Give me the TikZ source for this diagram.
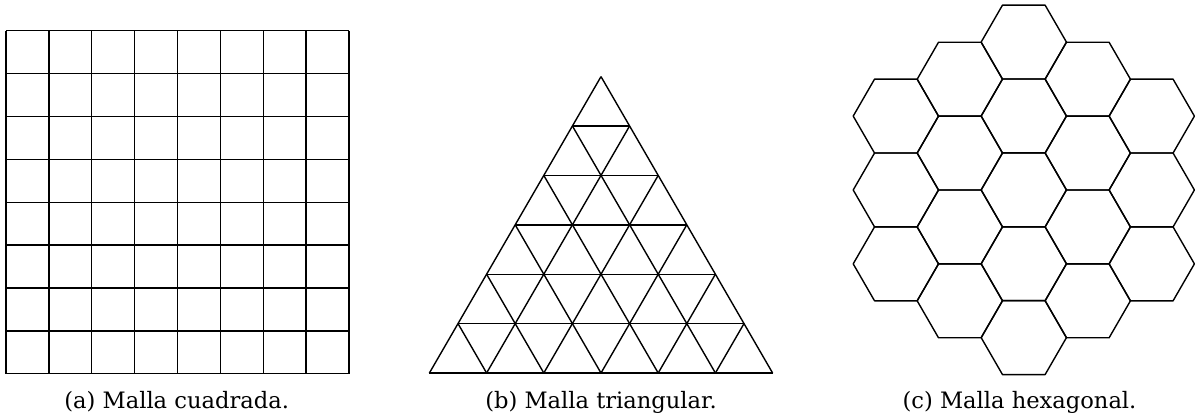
\documentclass[tikz,border=0pt]{standalone}
\usepackage{fontspec}
\setmainfont{DejaVu Serif}
\begin{document}
\begin{tikzpicture}[x=1pt,y=-1pt,
  mesh/.style={line width=1.4pt,line join=round,black},
  caption/.style={anchor=base,inner sep=0pt,font=\fontsize{22.6}{26}\selectfont}]
\useasboundingbox (0,0) rectangle (1195,418);
% (a) square mesh
\pgfmathsetmacro{\cs}{343/8}
\foreach \i in {0,...,8}{
  \draw[mesh] ({6+\i*\cs},30.7) -- ({6+\i*\cs},373.7);
  \draw[mesh] (6,{30.7+\i*\cs}) -- (349,{30.7+\i*\cs});
}
% (b) triangular mesh
\pgfmathsetmacro{\ts}{57.2}
\pgfmathsetmacro{\th}{49.4}
\coordinate (apex) at (601,76.6);
\foreach \r in {1,...,6}{
  \draw[mesh] ({601-\r*\ts/2},{76.6+\r*\th}) -- ({601+\r*\ts/2},{76.6+\r*\th});
}
\foreach \j in {0,...,6}{
  \draw[mesh] ({429.4+\j*\ts},373) -- ({601-(6-\j)*\ts/2},{76.6+(6-\j)*\th});
  \draw[mesh] ({429.4+\j*\ts},373) -- ({601+\j*\ts/2},{76.6+\j*\th});
}
% (c) hexagonal mesh
\pgfmathsetmacro{\hs}{42.65}
\pgfmathsetmacro{\hh}{36.94}
\foreach \c/\n/\y in {-2/3/116.1,-1/4/79.2,0/5/42.1,1/4/79.2,2/3/116.1}{
  \foreach \k in {1,...,\n}{
    \pgfmathsetmacro{\cx}{1023.8+\c*1.5*\hs}
    \pgfmathsetmacro{\cy}{\y+(\k-1)*2*\hh}
    \draw[mesh] ({\cx+\hs},\cy) -- ({\cx+\hs/2},{\cy-\hh}) -- ({\cx-\hs/2},{\cy-\hh})
      -- ({\cx-\hs},\cy) -- ({\cx-\hs/2},{\cy+\hh}) -- ({\cx+\hs/2},{\cy+\hh}) -- cycle;
  }
}
\node[caption] (capa) at (176.7,408) {(a) Malla cuadrada.};
\node[caption] (capb) at (601,408) {(b) Malla triangular.};
\node[caption] (capc) at (1019.5,408) {(c) Malla hexagonal.};
\end{tikzpicture}
\end{document}
